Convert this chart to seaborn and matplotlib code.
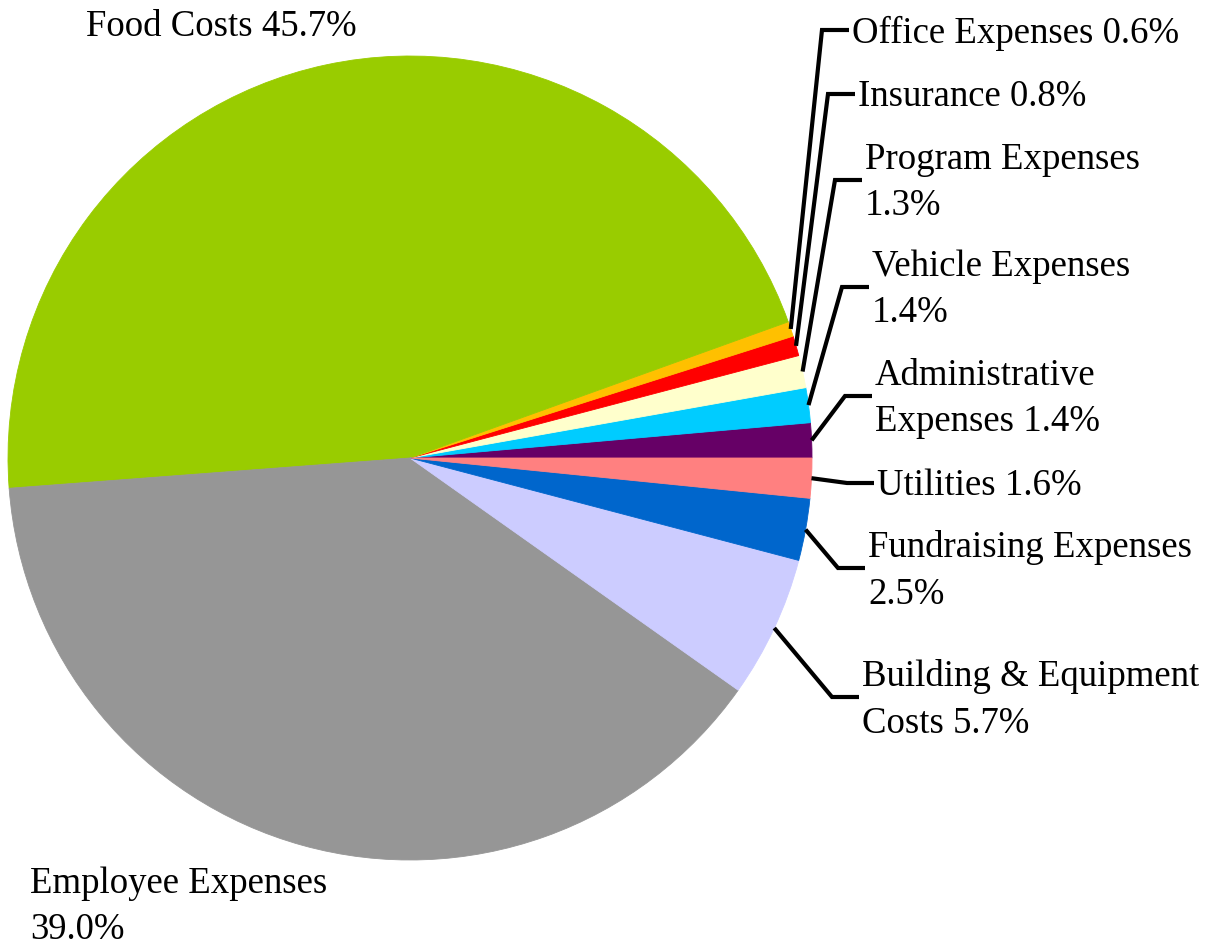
import matplotlib
matplotlib.use("Agg")
import numpy as np
from matplotlib import pyplot as plt
import seaborn as sns

# slices in counter-clockwise order starting at 3 o'clock
categories = ['Administrative\nExpenses', 'Vehicle Expenses\n', 'Program Expenses\n',
              'Insurance', 'Office Expenses', 'Food Costs', 'Employee Expenses\n',
              'Building & Equipment\nCosts', 'Fundraising Expenses\n', 'Utilities']
shares = [1.4, 1.4, 1.3, 0.8, 0.6, 45.7, 39.0, 5.7, 2.5, 1.6]
slice_colors = ['#660066', '#00CCFF', '#FFFFCC', '#FF0000', '#FFC000',
                '#99CC00', '#969696', '#CCCCFF', '#0066CC', '#FF8080']

W, H = 1212, 949
center_px = (410, 458)
radius_px = 402

# label layout in pixel coords: (elbow x, elbow y) for leader labels,
# (text x, text y, ha) for the two big slices
elbows = {0: (845, 396), 1: (842, 287), 2: (835, 180), 3: (828, 94),
          4: (822, 30), 7: (832, 697), 8: (838, 568), 9: (847, 483)}
free_labels = {5: (221, 27, 'center'), 6: (30, 907, 'left')}

sns.set_theme(style="white")
plt.rcParams['font.family'] = ['Liberation Serif', 'DejaVu Serif']

fig = plt.figure(figsize=(W / 100, H / 100), dpi=100)
ax = fig.add_axes([0, 0, 1, 1])

cx, cy = center_px[0], H - center_px[1]
wedges, _ = ax.pie(shares, colors=sns.color_palette(slice_colors), startangle=0,
                   counterclock=True, center=(cx, cy), radius=radius_px,
                   wedgeprops=dict(linewidth=0.6))
for w in wedges:
    w.set_edgecolor(w.get_facecolor())
ax.set_xlim(0, W)
ax.set_ylim(0, H)
ax.set_aspect('auto')
ax.axis('off')

fs = 26.5
for i, w in enumerate(wedges):
    sep = '' if categories[i].endswith('\n') else ' '
    text = f"{categories[i]}{sep}{shares[i]:.1f}%"
    if i in elbows:
        ang = np.deg2rad((w.theta1 + w.theta2) / 2)
        sx = cx + radius_px * np.cos(ang)
        sy = cy + radius_px * np.sin(ang)
        ex, ey = elbows[i][0], H - elbows[i][1]
        lx = ex + 27
        ax.plot([sx, ex, lx], [sy, ey, ey], color='black', lw=3,
                solid_joinstyle='miter', solid_capstyle='butt')
        ax.text(lx + 3, ey - 3, text, ha='left', va='center', fontsize=fs,
                linespacing=1.45, color='black')
    else:
        tx, ty, ha = free_labels[i]
        ax.text(tx, H - ty, text, ha=ha, va='center', fontsize=fs,
                linespacing=1.45, color='black')

plt.savefig("out.png", dpi=100)
